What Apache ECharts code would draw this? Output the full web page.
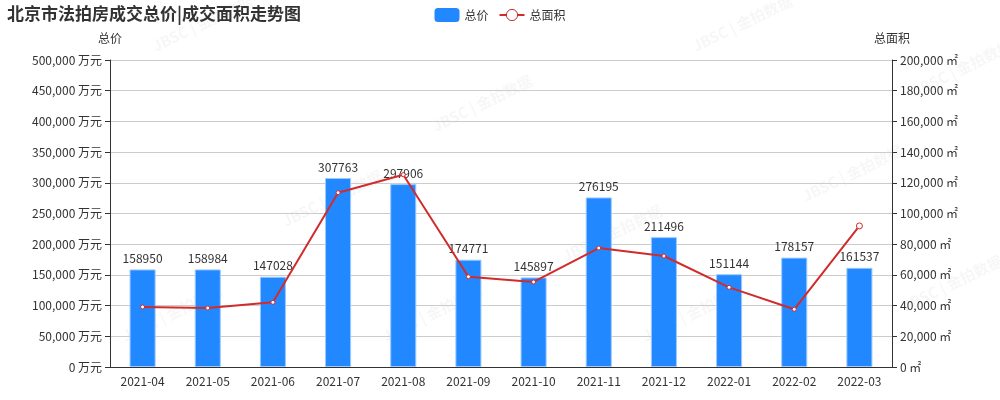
<!DOCTYPE html>
<html><head><meta charset="utf-8">
<script src="https://cdn.jsdelivr.net/npm/echarts@6/dist/echarts.min.js"></script>
<style>html,body{margin:0;padding:0;background:#fff}#c{width:1000px;height:400px}</style>
</head><body><div id="c"></div>
<script>
const months = ['2021-04','2021-05','2021-06','2021-07','2021-08','2021-09','2021-10','2021-11','2021-12','2022-01','2022-02','2022-03'];
const totalPrice = [158950,158984,147028,307763,297906,174771,145897,276195,211496,151144,178157,161537];
const totalArea = [39100,38400,42150,113550,125300,58800,55400,77500,72300,51900,37600,91900];
const titleText = '北京市法拍房成交总价|成交面积走势图';
const watermark = 'JBSC | 金拍数据';
const wmPos = [[150,40],[430,120],[690,40],[910,85],[280,215],[560,250],[800,190],[120,330],[380,330],[640,330],[900,300]];

const font = '"Noto Sans CJK SC", "Noto Sans", sans-serif';
const chart = echarts.init(document.getElementById('c'));
chart.setOption({
  animation: false,
  textStyle: { fontFamily: font },
  title: { text: titleText, left: 2, top: 0, textStyle: { fontSize: 17, fontWeight: 'bold', color: '#333', fontFamily: font } },
  legend: {
    top: 3, left: 'center', itemWidth: 25, itemHeight: 14, itemGap: 10,
    textStyle: { color: '#333', fontSize: 12 },
    data: [
      { name: '总价', icon: 'roundRect', itemStyle: { color: '#2288ff', borderWidth: 0 } },
      { name: '总面积', itemStyle: { color: '#fff', borderColor: '#d12b2b', borderWidth: 1 } }
    ]
  },
  graphic: wmPos.map(p => ({
    type: 'text', x: p[0], y: p[1], rotation: Math.PI / 7, silent: true, z: 0,
    style: { text: watermark, fill: 'rgba(0,0,0,0.035)', font: 'bold 15px ' + font }
  })),
  grid: { left: 110, right: 108, top: 60, bottom: 33 },
  xAxis: {
    type: 'category', data: months,
    axisLine: { lineStyle: { color: '#333' } },
    axisTick: { lineStyle: { color: '#333' } },
    axisLabel: { color: '#333', fontSize: 12, margin: 8 }
  },
  yAxis: [
    {
      type: 'value', name: '总价', min: 0, max: 500000, interval: 50000,
      nameTextStyle: { color: '#333', fontSize: 12 }, nameGap: 16,
      axisLine: { show: true, lineStyle: { color: '#333' } },
      axisTick: { show: true, lineStyle: { color: '#333' } },
      axisLabel: { color: '#333', fontSize: 12, formatter: v => v.toLocaleString('en-US') + ' 万元' },
      splitLine: { lineStyle: { color: '#ccc' } }
    },
    {
      type: 'value', name: '总面积', min: 0, max: 200000, interval: 20000, position: 'right',
      nameTextStyle: { color: '#333', fontSize: 12 }, nameGap: 16,
      axisLine: { show: true, lineStyle: { color: '#333' } },
      axisTick: { show: true, lineStyle: { color: '#333' } },
      axisLabel: { color: '#333', fontSize: 12, formatter: v => v.toLocaleString('en-US') + ' ㎡' },
      splitLine: { show: false }
    }
  ],
  series: [
    {
      name: '总价', type: 'bar', data: totalPrice, barWidth: '40%', z: 2,
      itemStyle: { color: '#2288ff', borderColor: '#9cc9ff', borderWidth: 1 },
      label: { show: true, position: 'top', color: '#333', fontSize: 12, distance: 5 }
    },
    {
      name: '总面积', type: 'line', yAxisIndex: 1, z: 3,
      data: totalArea.map((v, i) => i === totalArea.length - 1 ? { value: v, symbolSize: 6 } : v),
      symbol: 'circle', symbolSize: 4,
      itemStyle: { color: '#fff', borderColor: '#d12b2b', borderWidth: 1 },
      lineStyle: { color: '#d12b2b', width: 2 }
    }
  ]
});
</script></body></html>
